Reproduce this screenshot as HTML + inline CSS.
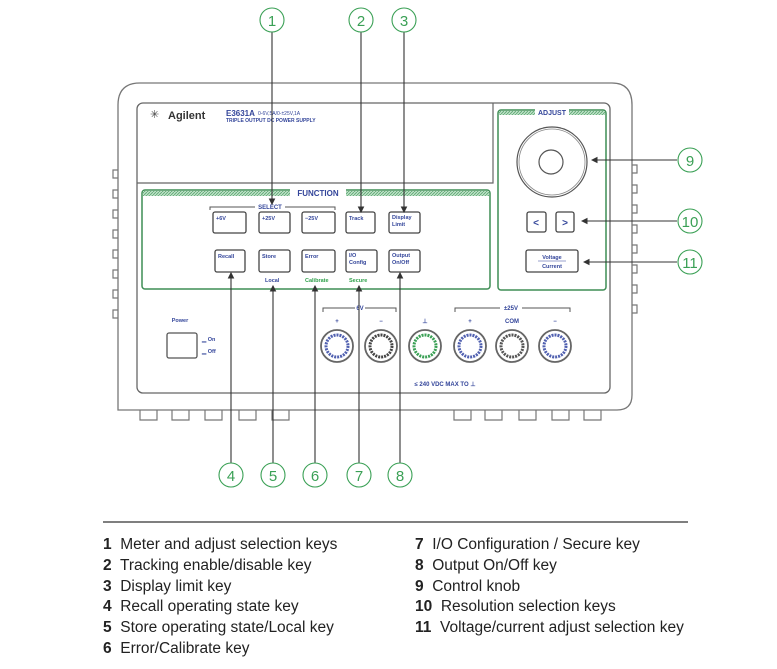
<!DOCTYPE html>
<html><head><meta charset="utf-8"><style>
body{margin:0;background:#fff;width:777px;height:669px;overflow:hidden;font-family:"Liberation Sans",sans-serif}
svg text{font-family:"Liberation Sans",sans-serif}
.leg{position:absolute;font-size:15.5px;color:#222;line-height:20.8px}
.leg b{font-weight:bold}
</style></head><body>
<svg width="777" height="669" style="position:absolute;left:0;top:0">
<defs>
<marker id="ar" markerWidth="6" markerHeight="6" refX="5" refY="3" orient="auto"><path d="M0,0 L6,3 L0,6 z" fill="#333"/></marker>
<pattern id="hat" width="3" height="3" patternUnits="userSpaceOnUse"><rect width="3" height="3" fill="#bfe0c8"/><path d="M0,3 L3,0" stroke="#5aa870" stroke-width="0.8"/></pattern>
</defs>
<path d="M118,410 L118,105 Q118,83 140,83 L612,83 Q632,83 632,105 L632,395 Q632,410 617,410 Z" fill="none" stroke="#777" stroke-width="1.3"/>
<g stroke="#777" fill="none" stroke-width="1.2">
<path d="M140,410 v10 h17 v-10 M172,410 v10 h17 v-10 M205,410 v10 h17 v-10 M239,410 v10 h17 v-10 M272,410 v10 h17 v-10"/>
<path d="M454,410 v10 h17 v-10 M485,410 v10 h17 v-10 M519,410 v10 h17 v-10 M552,410 v10 h17 v-10 M584,410 v10 h17 v-10"/>
<path d="M118,170h-5v8h5 M118,190h-5v8h5 M118,210h-5v8h5 M118,230h-5v8h5 M118,250h-5v8h5 M118,270h-5v8h5 M118,290h-5v8h5 M118,310h-5v8h5"/>
<path d="M632,165h5v8h-5 M632,185h5v8h-5 M632,205h5v8h-5 M632,225h5v8h-5 M632,245h5v8h-5 M632,265h5v8h-5 M632,285h5v8h-5 M632,305h5v8h-5"/>
</g>
<rect x="137" y="103" width="473" height="290" rx="6" fill="none" stroke="#666" stroke-width="1.3"/>
<path d="M137,183 H493 V103" fill="none" stroke="#666" stroke-width="1.2"/>
<text x="150" y="118" font-size="11" fill="#444">✳</text>
<text x="168" y="119" font-size="11" font-weight="bold" fill="#333">Agilent</text>
<text x="226" y="116" font-size="8" font-weight="bold" fill="#33459a">E3631A</text>
<text x="258" y="115" font-size="5" fill="#33459a">0-6V,5A/0-±25V,1A</text>
<text x="226" y="122" font-size="5" font-weight="bold" fill="#33459a">TRIPLE OUTPUT DC POWER SUPPLY</text>
<rect x="142" y="190" width="348" height="99" rx="3" fill="none" stroke="#3f8d55" stroke-width="1.5"/>
<rect x="143" y="191" width="346" height="5" fill="url(#hat)"/>
<rect x="290" y="188" width="56" height="10" fill="#fff"/>
<text x="318" y="196" font-size="8" font-weight="bold" fill="#33459a" text-anchor="middle">FUNCTION</text>
<path d="M210,210 v-3 H255 M285,207 H335 v3" fill="none" stroke="#555"/>
<text x="270" y="209" font-size="6" font-weight="bold" fill="#33459a" text-anchor="middle">SELECT</text>
<g fill="#fff" stroke="#444" stroke-width="1.3">
<rect x="213" y="212" width="33" height="21" rx="2"/><rect x="259" y="212" width="31" height="21" rx="2"/><rect x="302" y="212" width="33" height="21" rx="2"/><rect x="346" y="212" width="29" height="21" rx="2"/><rect x="389" y="212" width="31" height="21" rx="2"/>
<rect x="215" y="250" width="30" height="22" rx="2"/><rect x="259" y="250" width="31" height="22" rx="2"/><rect x="302" y="250" width="33" height="22" rx="2"/><rect x="346" y="250" width="31" height="22" rx="2"/><rect x="389" y="250" width="31" height="22" rx="2"/>
</g>
<g font-size="5.5" font-weight="bold" fill="#33459a">
<text x="216" y="220">+6V</text><text x="262" y="220">+25V</text><text x="305" y="220">−25V</text><text x="349" y="220">Track</text><text x="392" y="219">Display</text><text x="392" y="226">Limit</text>
<text x="218" y="258">Recall</text><text x="262" y="258">Store</text><text x="305" y="258">Error</text><text x="349" y="257">I/O</text><text x="349" y="264">Config</text><text x="392" y="257">Output</text><text x="392" y="264">On/Off</text>
<text x="265" y="282">Local</text>
</g>
<g font-size="5.5" font-weight="bold" fill="#2ea04a"><text x="305" y="282">Calibrate</text><text x="349" y="282">Secure</text></g>
<rect x="498" y="110" width="108" height="180" rx="3" fill="none" stroke="#3f8d55" stroke-width="1.5"/>
<rect x="499" y="111" width="106" height="4" fill="url(#hat)"/>
<rect x="535" y="107" width="34" height="10" fill="#fff"/>
<text x="552" y="115" font-size="7" font-weight="bold" fill="#33459a" text-anchor="middle">ADJUST</text>
<circle cx="552" cy="162" r="35" fill="none" stroke="#555" stroke-width="1.2"/>
<circle cx="552" cy="162" r="33" fill="none" stroke="#888" stroke-width="0.8"/>
<circle cx="551" cy="162" r="12" fill="none" stroke="#555" stroke-width="1.2"/>
<g fill="#fff" stroke="#444" stroke-width="1.3"><rect x="527" y="212" width="19" height="20" rx="2"/><rect x="556" y="212" width="18" height="20" rx="2"/><rect x="526" y="250" width="52" height="22" rx="2"/></g>
<text x="536" y="226" font-size="10" font-weight="bold" fill="#33459a" text-anchor="middle">&lt;</text>
<text x="565" y="226" font-size="10" font-weight="bold" fill="#33459a" text-anchor="middle">&gt;</text>
<text x="552" y="259" font-size="5.5" font-weight="bold" fill="#33459a" text-anchor="middle">Voltage</text>
<line x1="538" y1="261" x2="566" y2="261" stroke="#33459a" stroke-width="0.6"/>
<text x="552" y="268" font-size="5.5" font-weight="bold" fill="#33459a" text-anchor="middle">Current</text>
<text x="180" y="322" font-size="5.5" font-weight="bold" fill="#33459a" text-anchor="middle">Power</text>
<rect x="167" y="333" width="30" height="25" rx="2" fill="#fff" stroke="#555" stroke-width="1.3"/>
<text x="202" y="341" font-size="5.5" font-weight="bold" fill="#33459a">▁ On</text>
<text x="202" y="353" font-size="5.5" font-weight="bold" fill="#33459a">▁ Off</text>
<path d="M323,312 v-4 H355 M365,308 H396 v4 M455,312 v-4 H500 M522,308 H570 v4" fill="none" stroke="#555"/>
<g font-size="6" font-weight="bold" fill="#33459a" text-anchor="middle">
<text x="360" y="310">6V</text><text x="511" y="310">±25V</text>
<text x="337" y="323">+</text><text x="381" y="323">−</text><text x="425" y="323">⊥</text><text x="470" y="323">+</text><text x="512" y="323">COM</text><text x="555" y="323">−</text>
<text x="445" y="386">≤  240  VDC  MAX  TO  ⊥</text>
</g>
<g stroke-width="1.8" fill="#fff">
<g stroke="#666"><circle cx="337" cy="346" r="16"/><circle cx="381" cy="346" r="16"/><circle cx="425" cy="346" r="16"/><circle cx="470" cy="346" r="16"/><circle cx="512" cy="346" r="16"/><circle cx="555" cy="346" r="16"/></g>
<circle cx="337" cy="346" r="11" stroke="#5060b0" stroke-width="3" stroke-dasharray="2 1"/>
<circle cx="381" cy="346" r="11" stroke="#444" stroke-width="3" stroke-dasharray="2 1"/>
<circle cx="425" cy="346" r="11" stroke="#3aa055" stroke-width="3" stroke-dasharray="2 1"/>
<circle cx="470" cy="346" r="11" stroke="#5060b0" stroke-width="3" stroke-dasharray="2 1"/>
<circle cx="512" cy="346" r="11" stroke="#555" stroke-width="3" stroke-dasharray="2 1"/>
<circle cx="555" cy="346" r="11" stroke="#5060b0" stroke-width="3" stroke-dasharray="2 1"/>
</g>
<g stroke="#333" stroke-width="1.1" marker-end="url(#ar)">
<line x1="272" y1="32" x2="272" y2="204"/><line x1="361" y1="32" x2="361" y2="212"/><line x1="404" y1="32" x2="404" y2="212"/>
<line x1="231" y1="463" x2="231" y2="273"/><line x1="273" y1="463" x2="273" y2="286"/><line x1="315" y1="463" x2="315" y2="286"/><line x1="359" y1="463" x2="359" y2="286"/><line x1="400" y1="463" x2="400" y2="273"/>
<line x1="677" y1="160" x2="592" y2="160"/><line x1="677" y1="221" x2="582" y2="221"/><line x1="677" y1="262" x2="584" y2="262"/>
</g>
<g fill="#fff" stroke="#3aa055" stroke-width="1.1">
<circle cx="272" cy="20" r="12"/><circle cx="361" cy="20" r="12"/><circle cx="404" cy="20" r="12"/>
<circle cx="231" cy="475" r="12"/><circle cx="273" cy="475" r="12"/><circle cx="315" cy="475" r="12"/><circle cx="359" cy="475" r="12"/><circle cx="400" cy="475" r="12"/>
<circle cx="690" cy="160" r="12"/><circle cx="690" cy="221" r="12"/><circle cx="690" cy="262" r="12"/>
</g>
<g font-size="15" fill="#3aa055" text-anchor="middle" font-weight="300">
<text x="272" y="26">1</text><text x="361" y="26">2</text><text x="404" y="26">3</text>
<text x="231" y="481">4</text><text x="273" y="481">5</text><text x="315" y="481">6</text><text x="359" y="481">7</text><text x="400" y="481">8</text>
<text x="690" y="166">9</text><text x="690" y="227">10</text><text x="690" y="268">11</text>
</g>
<line x1="103" y1="522" x2="688" y2="522" stroke="#333" stroke-width="1.2"/>
</svg>
<div class="leg" style="left:103px;top:535px">
<div><b>1</b>&nbsp; Meter and adjust selection keys</div>
<div><b>2</b>&nbsp; Tracking enable/disable key</div>
<div><b>3</b>&nbsp; Display limit key</div>
<div><b>4</b>&nbsp; Recall operating state key</div>
<div><b>5</b>&nbsp; Store operating state/Local key</div>
<div><b>6</b>&nbsp; Error/Calibrate key</div>
</div>
<div class="leg" style="left:415px;top:535px">
<div><b>7</b>&nbsp; I/O Configuration / Secure key</div>
<div><b>8</b>&nbsp; Output On/Off key</div>
<div><b>9</b>&nbsp; Control knob</div>
<div><b>10</b>&nbsp; Resolution selection keys</div>
<div><b>11</b>&nbsp; Voltage/current adjust selection key</div>
</div>
</body></html>
